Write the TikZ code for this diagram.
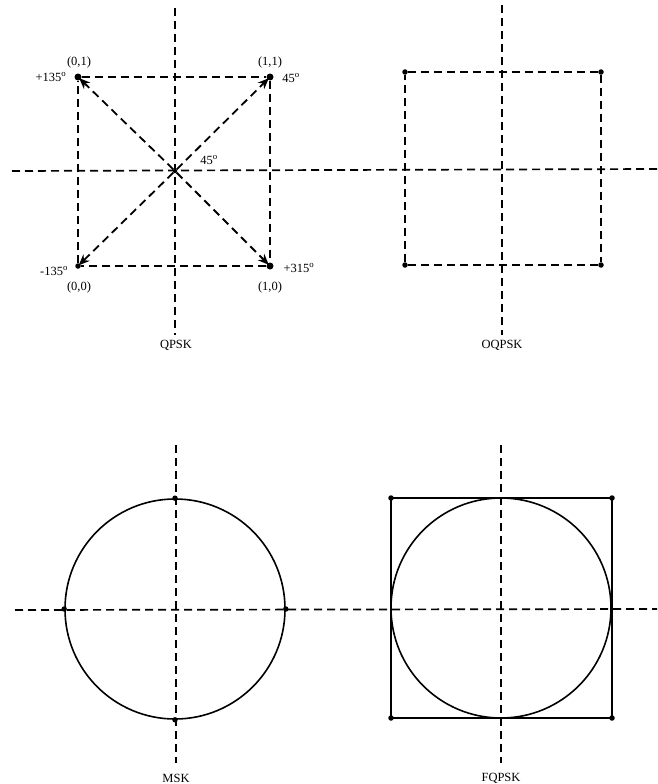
\documentclass[tikz,border=0pt]{standalone}
\usepackage{fontspec}
\setmainfont{Liberation Serif}
\usetikzlibrary{arrows.meta}
\begin{document}
\begin{tikzpicture}[x=1pt,y=-1pt,
  axis/.style={line width=1.7pt,dash pattern=on 8pt off 5pt},
  dline/.style={line width=1.8pt,dash pattern=on 8pt off 5pt},
  arr/.style={line width=1.8pt,dash pattern=on 8pt off 5pt,-{Stealth[length=11pt,width=9pt]},shorten >=-2pt},
  solidl/.style={line width=1.6pt},
  dot/.style={circle,fill=black,inner sep=0pt,minimum size=5.5pt},
  bigdot/.style={circle,fill=black,inner sep=0pt,minimum size=7pt},
  lbl/.style={font=\fontsize{12.5}{14}\selectfont,inner sep=0pt},
  ttl/.style={font=\fontsize{12.5}{14}\selectfont,inner sep=0pt}]
\useasboundingbox (0,0) rectangle (657,784);
\fill[white] (0,0) rectangle (657,784);

% ---------- axes ----------
\coordinate (h1a) at (12,171);
\coordinate (h1b) at (657,169);
\coordinate (v1a) at (175,8);
\coordinate (v1b) at (175,335);
\coordinate (v2a) at (502,5);
\coordinate (v2b) at (502,335);
\coordinate (h2a) at (15,610);
\coordinate (h2b) at (657,609);
\coordinate (v3a) at (176,445);
\coordinate (v3b) at (176,763);
\coordinate (v4a) at (501,445);
\coordinate (v4b) at (501,763);
\draw[axis] (h1a) -- (h1b);
\draw[axis] (v1a) -- (v1b);
\draw[axis] (v2a) -- (v2b);
\draw[axis] (h2a) -- (h2b);
\draw[axis] (v3a) -- (v3b);
\draw[axis] (v4a) -- (v4b);

% ---------- QPSK ----------
\node[dot,minimum size=4.5pt] (qc) at (175,171) {};
\node[bigdot] (q01) at (78,77) {};
\node[bigdot] (q11) at (270,77) {};
\node[dot] (q00) at (78,266) {};
\node[bigdot] (q10) at (270,266) {};
\draw[dline] (q01) -- (q11);
\draw[dline] (q11) -- (q10);
\draw[dline] (q10) -- (q00);
\draw[dline] (q00) -- (q01);
\draw[arr] (qc) -- (q01);
\draw[arr] (qc) -- (q11);
\draw[arr] (qc) -- (q00);
\draw[arr] (qc) -- (q10);
\node[lbl] (l01) at (79,62) {(0,1)};
\node[lbl] (l11) at (270,62) {(1,1)};
\node[lbl] (l00) at (79,287) {(0,0)};
\node[lbl] (l10) at (270,287) {(1,0)};
\node[lbl] (a135) at (51,77) {+135$^{\mathrm{o}}$};
\node[lbl] (a45a) at (291,78) {45$^{\mathrm{o}}$};
\node[lbl] (a45b) at (209,160) {45$^{\mathrm{o}}$};
\node[lbl] (am135) at (54,271) {-135$^{\mathrm{o}}$};
\node[lbl] (a315) at (299,268) {+315$^{\mathrm{o}}$};
\node[ttl] (tq) at (176,345) {QPSK};

% ---------- OQPSK ----------
\node[dot] (o1) at (405,72) {};
\node[dot] (o2) at (601,72) {};
\node[dot] (o3) at (601,265) {};
\node[dot] (o4) at (405,265) {};
\draw[dline] (o1) -- (o2);
\draw[dline] (o2) -- (o3);
\draw[dline] (o3) -- (o4);
\draw[dline] (o4) -- (o1);
\node[ttl] (to) at (502,345) {OQPSK};

% ---------- MSK ----------
\node[circle,draw,line width=1.6pt,minimum size=220pt,inner sep=0pt] (mc) at (175,609) {};
\node[dot] at (mc.north) {};
\node[dot] at (mc.south) {};
\node[dot] at (mc.west) {};
\node[dot] at (mc.east) {};
\node[ttl] (tm) at (176,778) {MSK};

% ---------- FQPSK ----------
\node[dot] (f1) at (391,498) {};
\node[dot] (f2) at (612,498) {};
\node[dot] (f3) at (612,718) {};
\node[dot] (f4) at (391,718) {};
\draw[solidl] (f1.center) -- (f2.center) -- (f3.center) -- (f4.center) -- cycle;
\node[circle,draw,line width=1.6pt,minimum size=220pt,inner sep=0pt] (fc) at (501,608) {};
\node[ttl] (tf) at (501,778) {FQPSK};
\end{tikzpicture}
\end{document}
